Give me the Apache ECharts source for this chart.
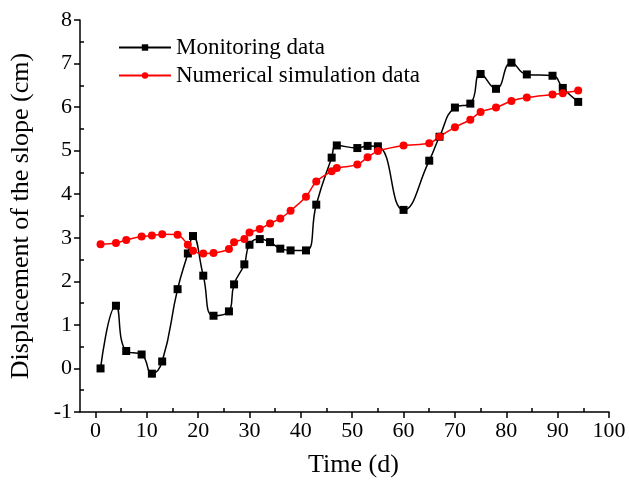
<!DOCTYPE html>
<html>
<head>
<meta charset="utf-8">
<script src="https://cdn.jsdelivr.net/npm/echarts@6/dist/echarts.min.js"></script>
<style>html,body{margin:0;padding:0;background:#fff}#c{width:629px;height:484px}</style>
</head>
<body>
<div id="c"></div>
<script>
var days = [1, 4, 6, 9, 11, 13, 16, 18, 19, 21, 23, 26, 27, 29, 30, 32, 34, 36, 38, 41, 43, 46, 47, 51, 53, 55, 60, 65, 67, 70, 73, 75, 78, 81, 84, 89, 91, 94];
var monitoring = [0, 1.44, 0.40, 0.32, -0.12, 0.16, 1.82, 2.64, 3.04, 2.13, 1.21, 1.31, 1.93, 2.39, 2.84, 2.97, 2.90, 2.75, 2.71, 2.71, 3.76, 4.84, 5.12, 5.06, 5.11, 5.10, 3.64, 4.77, 5.32, 5.99, 6.08, 6.76, 6.42, 7.02, 6.75, 6.72, 6.44, 6.12];
var simulation = [2.85, 2.88, 2.95, 3.03, 3.05, 3.08, 3.07, 2.84, 2.70, 2.64, 2.65, 2.74, 2.90, 2.97, 3.12, 3.20, 3.33, 3.44, 3.62, 3.94, 4.29, 4.53, 4.60, 4.68, 4.85, 4.99, 5.12, 5.17, 5.32, 5.54, 5.71, 5.89, 5.99, 6.14, 6.22, 6.29, 6.32, 6.38];
var xTicks = [0, 10, 20, 30, 40, 50, 60, 70, 80, 90, 100];
var xMinorTicks = [5, 15, 25, 35, 45, 55, 65, 75, 85, 95];
var yMinorTicks = [-0.5, 0.5, 1.5, 2.5, 3.5, 4.5, 5.5, 6.5, 7.5];
var seriesNames = ['Monitoring data', 'Numerical simulation data'];

function pairs(xs, ys) { return xs.map(function (x, i) { return [x, ys[i]]; }); }

var W = 629, H = 484, GL = 80, GT = 20, GR = 20, GB = 72;
var font = '"Liberation Serif", "Times New Roman", serif';
var chart = echarts.init(document.getElementById('c'));
chart.setOption({
  animation: false,
  backgroundColor: '#fff',
  textStyle: { fontFamily: font, color: '#000' },
  grid: { left: GL, top: GT, right: GR, bottom: GB, containLabel: false },
  legend: {
    orient: 'vertical', left: 113, top: 31, itemWidth: 52, itemHeight: 8, itemGap: 5,
    textStyle: { fontFamily: font, fontSize: 23, color: '#000' },
    data: seriesNames
  },
  xAxis: [{
    type: 'value', min: -3, max: 100, position: 'bottom',
    name: 'Time (d)', nameLocation: 'middle', nameGap: 40,
    nameTextStyle: { fontFamily: font, fontSize: 26, color: '#000', padding: [0, 0, 0, 18] },
    axisLine: { show: true, onZero: false, lineStyle: { color: '#000', width: 1.5 } },
    axisTick: { show: true, inside: false, length: 6, customValues: xTicks, lineStyle: { color: '#000', width: 1.5 } },
    axisLabel: { customValues: xTicks, fontFamily: font, fontSize: 22, color: '#000', margin: 8 },
    splitLine: { show: false }
  }, {
    type: 'value', min: -3, max: 100, position: 'top', offset: -(H - GT - GB),
    axisLine: { show: false, onZero: false },
    axisTick: { show: true, inside: false, length: 4, customValues: xMinorTicks, lineStyle: { color: '#000', width: 1.5 } },
    axisLabel: { show: false },
    splitLine: { show: false }
  }],
  yAxis: [{
    type: 'value', min: -1, max: 8, interval: 1, position: 'left',
    name: 'Displacement of the slope (cm)', nameLocation: 'middle', nameGap: 46, nameRotate: 90,
    nameTextStyle: { fontFamily: font, fontSize: 26, color: '#000' },
    axisLine: { show: true, onZero: false, lineStyle: { color: '#000', width: 1.5 } },
    axisTick: { show: true, inside: false, length: 6, lineStyle: { color: '#000', width: 1.5 } },
    axisLabel: { fontFamily: font, fontSize: 22, color: '#000', margin: 8 },
    splitLine: { show: false }
  }, {
    type: 'value', min: -1, max: 8, position: 'right', offset: -(W - GL - GR),
    axisLine: { show: false, onZero: false },
    axisTick: { show: true, inside: false, length: 4, customValues: yMinorTicks, lineStyle: { color: '#000', width: 1.5 } },
    axisLabel: { show: false },
    splitLine: { show: false }
  }],
  series: [{
    name: seriesNames[0], type: 'line', data: pairs(days, monitoring),
    smooth: 0.5, symbol: 'rect', symbolSize: 8,
    itemStyle: { color: '#000' }, lineStyle: { color: '#000', width: 1.5 }
  }, {
    name: seriesNames[1], type: 'line', data: pairs(days, simulation),
    smooth: 0.3, symbol: 'circle', symbolSize: 8,
    itemStyle: { color: '#ff0000' }, lineStyle: { color: '#ff0000', width: 1.5 }
  }]
});
</script>
</body>
</html>
